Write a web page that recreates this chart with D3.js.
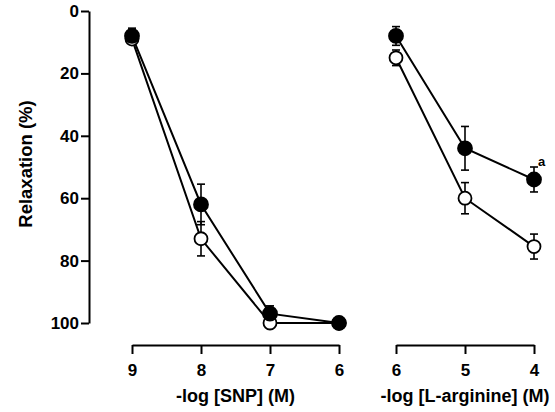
<!DOCTYPE html>
<html>
<head>
<meta charset="utf-8">
<script src="https://cdn.jsdelivr.net/npm/d3@7"></script>
<style>
  body { margin: 0; background: #fff; }
  svg text { font-family: "Liberation Sans", Arial, sans-serif; font-weight: bold; }
</style>
</head>
<body>
<svg id="chart" width="555" height="412"></svg>
<script>
// values (relaxation %, mean and SEM)
var snpDoses = [9, 8, 7, 6];
var snpFilled = [8, 62, 97, 100];
var snpFilledErr = [2.5, 6.5, 2.5, 0];
var snpOpen = [9, 73, 100, 100];
var snpOpenErr = [1.5, 5.5, 0, 0];

var argDoses = [6, 5, 4];
var argFilled = [8, 44, 54];
var argFilledErr = [3, 7, 4];
var argOpen = [15, 60, 75.5];
var argOpenErr = [2.5, 5, 4];

var yTicks = [0, 20, 40, 60, 80, 100];

var svg = d3.select("svg");

var y = d3.scaleLinear().domain([0, 100]).range([11, 323]);
var xL = d3.scaleLinear().domain([9, 6]).range([132, 339]);
var xR = d3.scaleLinear().domain([6, 4]).range([396, 534]);
var axisY = 345;

// y axis
var gy = svg.append("g")
  .attr("transform", "translate(89,0)")
  .call(d3.axisLeft(y).tickValues(yTicks).tickSizeInner(8).tickSizeOuter(0).tickPadding(2));
gy.selectAll("text").style("font-size", "17px").attr("fill", "#000");

svg.append("text")
  .attr("transform", "translate(32,164) rotate(-90)")
  .attr("text-anchor", "middle")
  .style("font-size", "18.5px")
  .text("Relaxation (%)");

function panel(x, doses, filled, filledErr, open, openErr, title) {
  var gx = svg.append("g")
    .attr("transform", "translate(0," + axisY + ")")
    .call(d3.axisBottom(x).tickValues(doses).tickFormat(d3.format("d"))
      .tickSizeInner(9).tickSizeOuter(0).tickPadding(10));
  gx.selectAll("text").style("font-size", "17px").attr("fill", "#000");

  var r = d3.extent(x.range());
  svg.append("text")
    .attr("x", (r[0] + r[1]) / 2)
    .attr("y", 402)
    .attr("text-anchor", "middle")
    .style("font-size", "18px")
    .text(title);

  // open drawn first so filled symbols sit on top where they overlap
  var series = [
    { vals: open, err: openErr, fill: "#fff", rad: 6.5 },
    { vals: filled, err: filledErr, fill: "#000", rad: 7 }
  ];

  var line = d3.line()
    .x(function(d, i) { return x(doses[i]); })
    .y(function(d) { return y(d); });

  series.forEach(function(s) {
    svg.append("path")
      .attr("d", line(s.vals))
      .attr("fill", "none")
      .attr("stroke", "#000")
      .attr("stroke-width", 2);
  });

  series.forEach(function(s) {
    var g = svg.append("g").attr("stroke", "#000").attr("stroke-width", 1.6);
    s.vals.forEach(function(v, i) {
      if (!s.err[i]) return;
      var cx = x(doses[i]);
      var lo = y(v - s.err[i]), hi = y(v + s.err[i]);
      g.append("line").attr("x1", cx).attr("x2", cx).attr("y1", lo).attr("y2", hi);
      g.append("line").attr("x1", cx - 4).attr("x2", cx + 4).attr("y1", lo).attr("y2", lo);
      g.append("line").attr("x1", cx - 4).attr("x2", cx + 4).attr("y1", hi).attr("y2", hi);
    });
  });

  series.forEach(function(s) {
    svg.append("g").selectAll("circle")
      .data(s.vals)
      .enter()
      .append("circle")
      .attr("cx", function(d, i) { return x(doses[i]); })
      .attr("cy", function(d) { return y(d); })
      .attr("r", s.rad)
      .attr("fill", s.fill)
      .attr("stroke", "#000")
      .attr("stroke-width", 1.8);
  });
}

panel(xL, snpDoses, snpFilled, snpFilledErr, snpOpen, snpOpenErr, "-log [SNP] (M)");
panel(xR, argDoses, argFilled, argFilledErr, argOpen, argOpenErr, "-log [L-arginine] (M)");

svg.selectAll(".domain").attr("stroke-width", 2);
svg.selectAll(".tick line").attr("stroke-width", 2);

// significance mark
svg.append("text")
  .attr("x", xR(4) + 4)
  .attr("y", y(argFilled[2] - argFilledErr[2]) - 1)
  .style("font-size", "13px")
  .text("a");
</script>
</body>
</html>
